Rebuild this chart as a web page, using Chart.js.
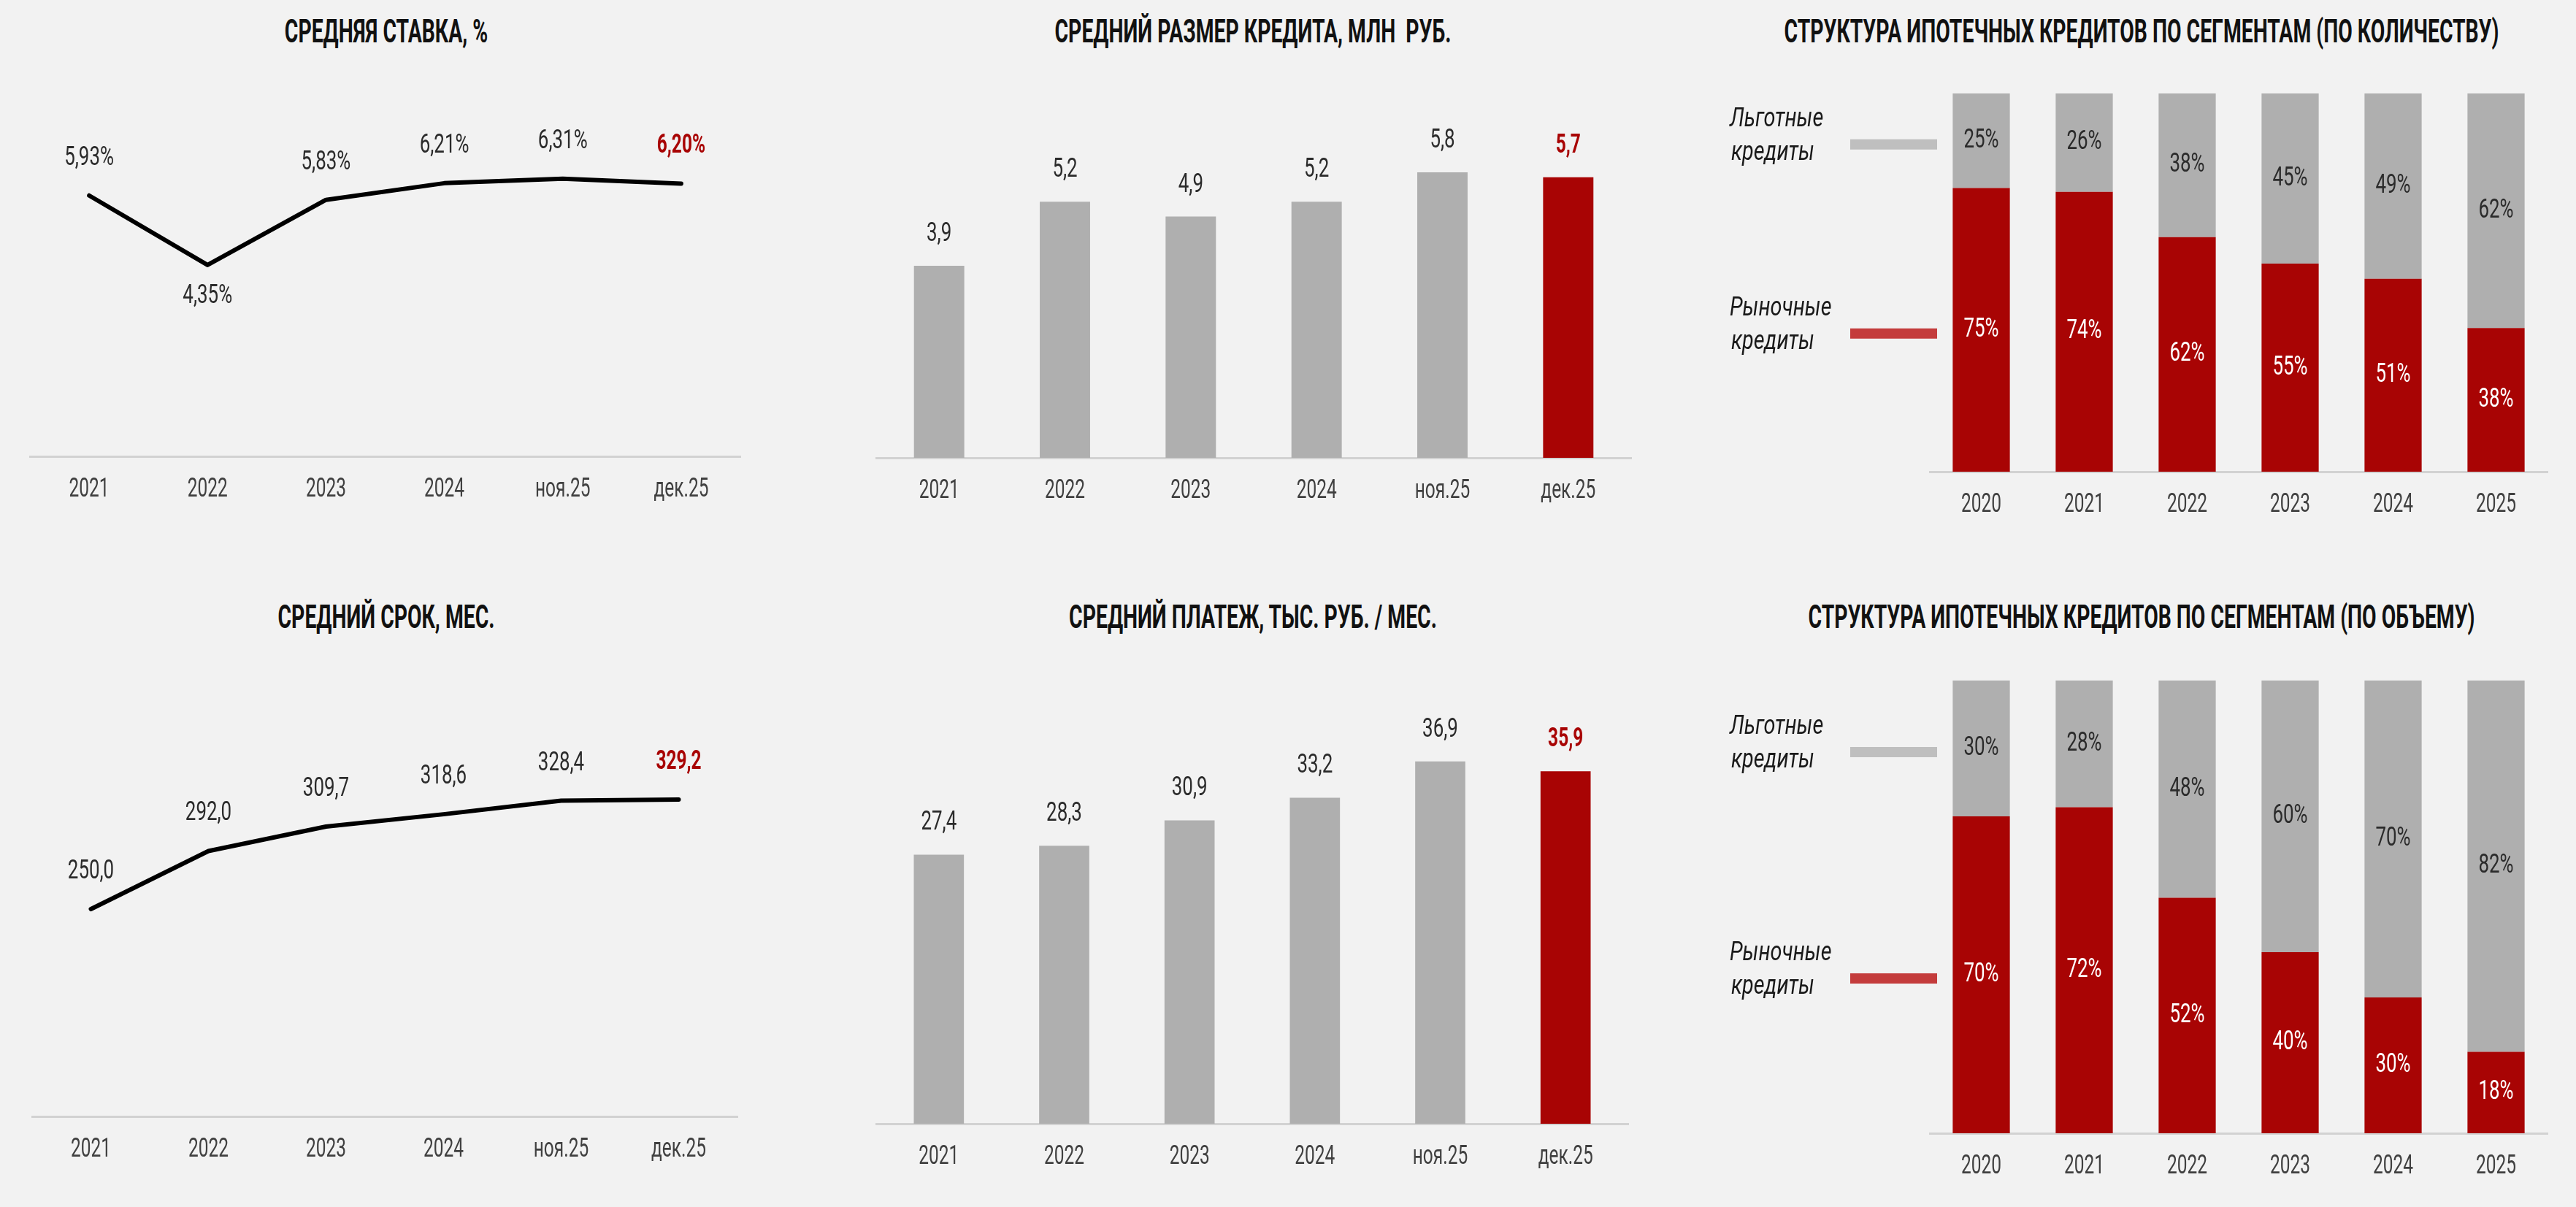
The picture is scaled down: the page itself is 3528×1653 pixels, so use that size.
<!DOCTYPE html>
<html>
<head>
<meta charset="utf-8">
<script src="https://cdn.jsdelivr.net/npm/chart.js@4.4.1/dist/chart.umd.min.js"></script>
<style>
  html, body { margin: 0; padding: 0; background: #f2f2f2; }
  body { width: 3528px; height: 1653px; position: relative; overflow: hidden; }
  .box { position: absolute; }
  .title {
    position: absolute;
    font-family: Roboto, sans-serif;
    font-weight: 700;
    font-size: 45px;
    line-height: 45px;
    color: #111;
    white-space: nowrap;
    transform: translateX(-50%) scaleX(0.63);
  }
</style>
</head>
<body>

<div class="title" style="left:529px;top:20px">СРЕДНЯЯ СТАВКА, %</div>
<div class="title" style="left:1716px;top:20px">СРЕДНИЙ РАЗМЕР КРЕДИТА, МЛН&nbsp; РУБ.</div>
<div class="title" style="left:2933px;top:20px">СТРУКТУРА ИПОТЕЧНЫХ КРЕДИТОВ ПО СЕГМЕНТАМ (ПО КОЛИЧЕСТВУ)</div>
<div class="title" style="left:529px;top:822px">СРЕДНИЙ СРОК, МЕС.</div>
<div class="title" style="left:1716px;top:822px">СРЕДНИЙ ПЛАТЕЖ, ТЫС. РУБ. / МЕС.</div>
<div class="title" style="left:2933px;top:822px">СТРУКТУРА ИПОТЕЧНЫХ КРЕДИТОВ ПО СЕГМЕНТАМ (ПО ОБЪЕМУ)</div>

<div class="box" style="left:0px;top:80px;width:1100px;height:625px"><canvas id="rate"></canvas></div>
<div class="box" style="left:1150px;top:80px;width:1150px;height:627px"><canvas id="size"></canvas></div>
<div class="box" style="left:2350px;top:80px;width:1178px;height:646px"><canvas id="segCount"></canvas></div>
<div class="box" style="left:0px;top:880px;width:1100px;height:729px"><canvas id="term"></canvas></div>
<div class="box" style="left:1150px;top:880px;width:1150px;height:739px"><canvas id="payment"></canvas></div>
<div class="box" style="left:2350px;top:880px;width:1178px;height:752px"><canvas id="segVolume"></canvas></div>

<script>
// данные
const periods = ['2021', '2022', '2023', '2024', 'ноя.25', 'дек.25'];
const rateValues = [5.93, 4.35, 5.83, 6.21, 6.31, 6.20];
const loanSizeValues = [3.9, 5.2, 4.9, 5.2, 5.8, 5.7];
const termValues = [250.0, 292.0, 309.7, 318.6, 328.4, 329.2];
const paymentValues = [27.4, 28.3, 30.9, 33.2, 36.9, 35.9];

const segYears = ['2020', '2021', '2022', '2023', '2024', '2025'];
const countMarket = [75, 74, 62, 55, 51, 38];
const countPreferential = [25, 26, 38, 45, 49, 62];
const volumeMarket = [70, 72, 52, 40, 30, 18];
const volumePreferential = [30, 28, 48, 60, 70, 82];

const FONT = "Roboto, sans-serif";
const RED = '#a80404';
const GREY = '#afafaf';
const TXT = '#2b2b2b';

Chart.defaults.font.family = FONT;
Chart.defaults.animation = false;

const fmt1 = v => v.toFixed(1).replace('.', ',');
const fmt2p = v => v.toFixed(2).replace('.', ',') + '%';
const fmtPct = v => v + '%';

// узкий шрифт: рисуем текст со сжатием по горизонтали
function narrowText(ctx, text, x, y, sx, align) {
  ctx.save();
  ctx.translate(x, y);
  ctx.scale(sx, 1);
  ctx.textAlign = align || 'center';
  ctx.textBaseline = 'middle';
  ctx.fillText(text, 0, 0);
  ctx.restore();
}

// подписи значений
function valueLabels(o) {
  return {
    id: 'valueLabels',
    afterDatasetsDraw(chart) {
      const ctx = chart.ctx;
      chart.data.datasets.forEach((ds, di) => {
        chart.getDatasetMeta(di).data.forEach((el, i) => {
          let y;
          if (o.inside) y = (el.y + el.base) / 2;
          else if (o.below && o.below.includes(i)) y = el.y + o.belowOffset;
          else y = el.y - o.offset;
          const hi = o.highlightLast && i === ds.data.length - 1;
          ctx.font = (hi ? '700 ' : '400 ') + '36px ' + FONT;
          ctx.fillStyle = hi ? RED : (o.colors ? o.colors[di] : TXT);
          narrowText(ctx, o.format(ds.data[i]), el.x, y, hi ? 0.68 : 0.72);
        });
      });
    }
  };
}

// подписи категорий под осью
const axisLabels = {
  id: 'axisLabels',
  afterDraw(chart) {
    const ctx = chart.ctx;
    const sc = chart.scales.x;
    ctx.font = '400 36px ' + FONT;
    ctx.fillStyle = '#404040';
    chart.data.labels.forEach((lab, i) => {
      narrowText(ctx, lab, sc.getPixelForTick(i), chart.chartArea.bottom + 46, 0.68);
    });
  }
};

// легенда слева от столбцов
const segLegend = {
  id: 'segLegend',
  afterDraw(chart) {
    const ctx = chart.ctx;
    const left = chart.chartArea.left;
    const items = [
      { ds: 1, color: '#bfbfbf', lines: ['Льготные', 'кредиты'] },
      { ds: 0, color: '#c43c3c', lines: ['Рыночные', 'кредиты'] }
    ];
    items.forEach(it => {
      const el = chart.getDatasetMeta(it.ds).data[0];
      const y = (el.y + el.base) / 2 + 5;
      ctx.fillStyle = it.color;
      ctx.fillRect(left - 109, y - 7, 119, 14);
      ctx.fillStyle = '#1a1a1a';
      ctx.font = 'italic 400 36px ' + FONT;
      narrowText(ctx, it.lines[0], left - 274, y - 34, 0.8, 'left');
      narrowText(ctx, it.lines[1], left - 272, y + 12, 0.8, 'left');
    });
  }
};

function xAxis(stacked) {
  return {
    offset: true,
    stacked: stacked,
    grid: { display: false, drawTicks: false },
    border: { display: true, color: '#d2d2d2', width: 3 },
    ticks: { display: false },
    afterFit(s) { s.height = 80; }
  };
}

function baseOptions(pad, yMin, yMax, stacked) {
  return {
    responsive: true,
    maintainAspectRatio: false,
    layout: { padding: { left: pad[0], right: pad[1], top: pad[2], bottom: 0 } },
    scales: {
      x: xAxis(stacked),
      y: { display: false, min: yMin, max: yMax, stacked: stacked }
    },
    plugins: { legend: { display: false }, tooltip: { enabled: false } }
  };
}

function lineChart(id, values, pad, yMin, yMax, fmt, below) {
  new Chart(document.getElementById(id), {
    type: 'line',
    data: {
      labels: periods,
      datasets: [{
        data: values,
        borderColor: '#000',
        borderWidth: 6,
        borderCapStyle: 'round',
        borderJoinStyle: 'round',
        pointRadius: 0,
        tension: 0,
        clip: false
      }]
    },
    options: baseOptions(pad, yMin, yMax, false),
    plugins: [valueLabels({ offset: 51, below: below, belowOffset: 43, highlightLast: true, format: fmt }), axisLabels]
  });
}

function barChart(id, values, pad, yMin, yMax) {
  new Chart(document.getElementById(id), {
    type: 'bar',
    data: {
      labels: periods,
      datasets: [{
        data: values,
        backgroundColor: values.map((v, i) => i === values.length - 1 ? RED : GREY),
        barPercentage: 0.4,
        categoryPercentage: 1
      }]
    },
    options: baseOptions(pad, yMin, yMax, false),
    plugins: [valueLabels({ offset: 43, highlightLast: true, format: fmt1 }), axisLabels]
  });
}

function segChart(id, market, pref, pad) {
  new Chart(document.getElementById(id), {
    type: 'bar',
    data: {
      labels: segYears,
      datasets: [
        { data: market, backgroundColor: RED, barPercentage: 0.555, categoryPercentage: 1 },
        { data: pref, backgroundColor: GREY, barPercentage: 0.555, categoryPercentage: 1 }
      ]
    },
    options: baseOptions(pad, 0, 100, true),
    plugins: [valueLabels({ inside: true, colors: ['#ffffff', TXT], format: fmtPct }), axisLabels, segLegend]
  });
}

lineChart('rate', rateValues, [41, 86, 63], 0, 8, fmt2p, [1]);
barChart('size', loanSizeValues, [50, 66, 75], 0, 7);
segChart('segCount', countMarket, countPreferential, [293, 39, 48]);
lineChart('term', termValues, [44, 90, 81], 100, 400, fmt1, []);
barChart('payment', paymentValues, [50, 70, 121], 0, 40);
segChart('segVolume', volumeMarket, volumePreferential, [293, 39, 52]);
</script>
</body>
</html>
